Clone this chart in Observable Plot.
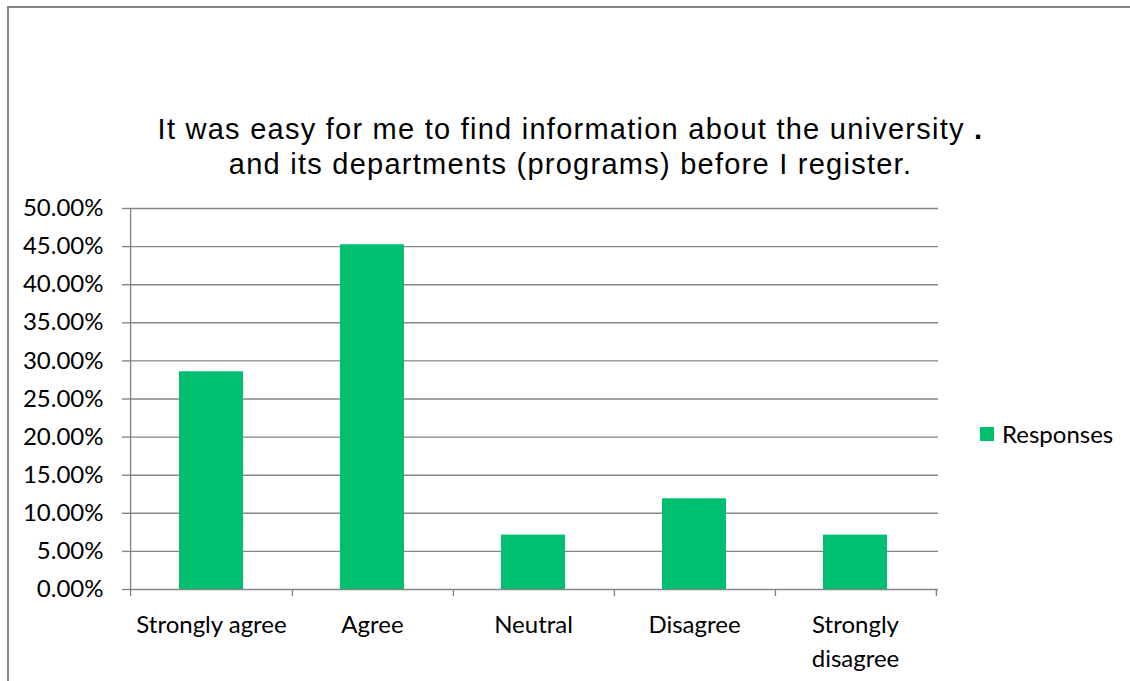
<!DOCTYPE html>
<html>
<head>
<meta charset="utf-8">
<script src="https://cdn.jsdelivr.net/npm/d3@7"></script>
<script src="https://cdn.jsdelivr.net/npm/@observablehq/plot@0.6"></script>
<style>
  html, body { margin: 0; padding: 0; background: #fff; }
  #wrap { position: relative; width: 1130px; height: 681px; overflow: hidden; background: #fff; }
  #border { position: absolute; left: 7px; top: 6px; width: 1140px; height: 700px; border-left: 2px solid #868686; border-top: 2px solid #868686; box-sizing: border-box; }
  #title { position: absolute; left: 0; width: 1141px; top: 112px; text-align: center; font-family: "Liberation Sans", Arial, sans-serif; font-size: 29px; line-height: 35px; letter-spacing: 1.25px; color: #000; }
  #title b { font-weight: bold; }
  #legend { position: absolute; left: 980px; top: 419px; font-family: Lato, "Open Sans", sans-serif; font-size: 24px; line-height: 29px; color: #000; display: flex; align-items: center; }
  #legend .sw { width: 14px; height: 14px; background: #00bf6f; margin-right: 8px; }
  #chart { position: absolute; left: 0; top: 0; }
</style>
</head>
<body>
<div id="wrap">
  <div id="chart"></div>
  <div id="border"></div>
  <div id="title"></div>
  <div id="legend"></div>
</div>
<script>
const titleLines = ["It was easy for me to find information about the university", "and its departments (programs) before I register."];
const seriesName = "Responses";
const categories = ["Strongly agree", "Agree", "Neutral", "Disagree", "Strongly disagree"];
const categoryLabels = ["Strongly agree", "Agree", "Neutral", "Disagree", "Strongly\ndisagree"];
const values = [0.2857, 0.4524, 0.0714, 0.1190, 0.0714];
const yTicks = [0, 0.05, 0.10, 0.15, 0.20, 0.25, 0.30, 0.35, 0.40, 0.45, 0.50];

const data = categories.map((c, i) => ({category: c, value: values[i]}));
const labelOf = new Map(categories.map((c, i) => [c, categoryLabels[i]]));

const W = 1130, H = 681;
const mL = 129, mR = 192, mT = 208, mB = 92;
const step = (W - mL - mR) / categories.length;
const barColor = "#00bf6f";
const gridColor = "#868686";
const font = "Lato, 'Open Sans', sans-serif";

document.getElementById("title").innerHTML =
  titleLines[0] + ' <b>.</b><br>' + titleLines[1];
document.getElementById("legend").innerHTML =
  '<div class="sw"></div><span>' + seriesName + '</span>';

const chart = Plot.plot({
  width: W,
  height: H,
  marginLeft: mL,
  marginRight: mR,
  marginTop: mT,
  marginBottom: mB,
  style: {fontFamily: font, fontSize: "24px", color: "#000", background: "transparent"},
  x: {domain: categories, paddingInner: 0.6, paddingOuter: 0.3, align: 0.5},
  y: {domain: [0, 0.5]},
  marks: [
    Plot.gridY(yTicks, {stroke: gridColor, strokeOpacity: 1, strokeWidth: 1.4}),
    Plot.barY(data, {x: "category", y: "value", fill: barColor}),
    Plot.axisY(yTicks, {
      tickSize: 7, tickPadding: 19, stroke: gridColor, strokeWidth: 1.4,
      tickFormat: d => (d * 100).toFixed(2) + "%", fontSize: 24, fill: "#000", label: null
    }),
    Plot.axisX({
      tickSize: 0, tickPadding: 19, fontSize: 24, fill: "#000", label: null,
      tickFormat: d => labelOf.get(d), lineHeight: 1.42
    }),
    // left axis line
    Plot.ruleX([categories[0]], {x: d => d, dx: -step / 2, y1: 0.5, y2: 0, insetBottom: -7, stroke: gridColor, strokeWidth: 1.4}),
    // category boundary ticks
    Plot.ruleX(categories, {x: d => d, dx: step / 2, y1: 0, y2: 0, insetBottom: -7, stroke: gridColor, strokeWidth: 1.4})
  ]
});
document.getElementById("chart").appendChild(chart);
</script>
</body>
</html>
